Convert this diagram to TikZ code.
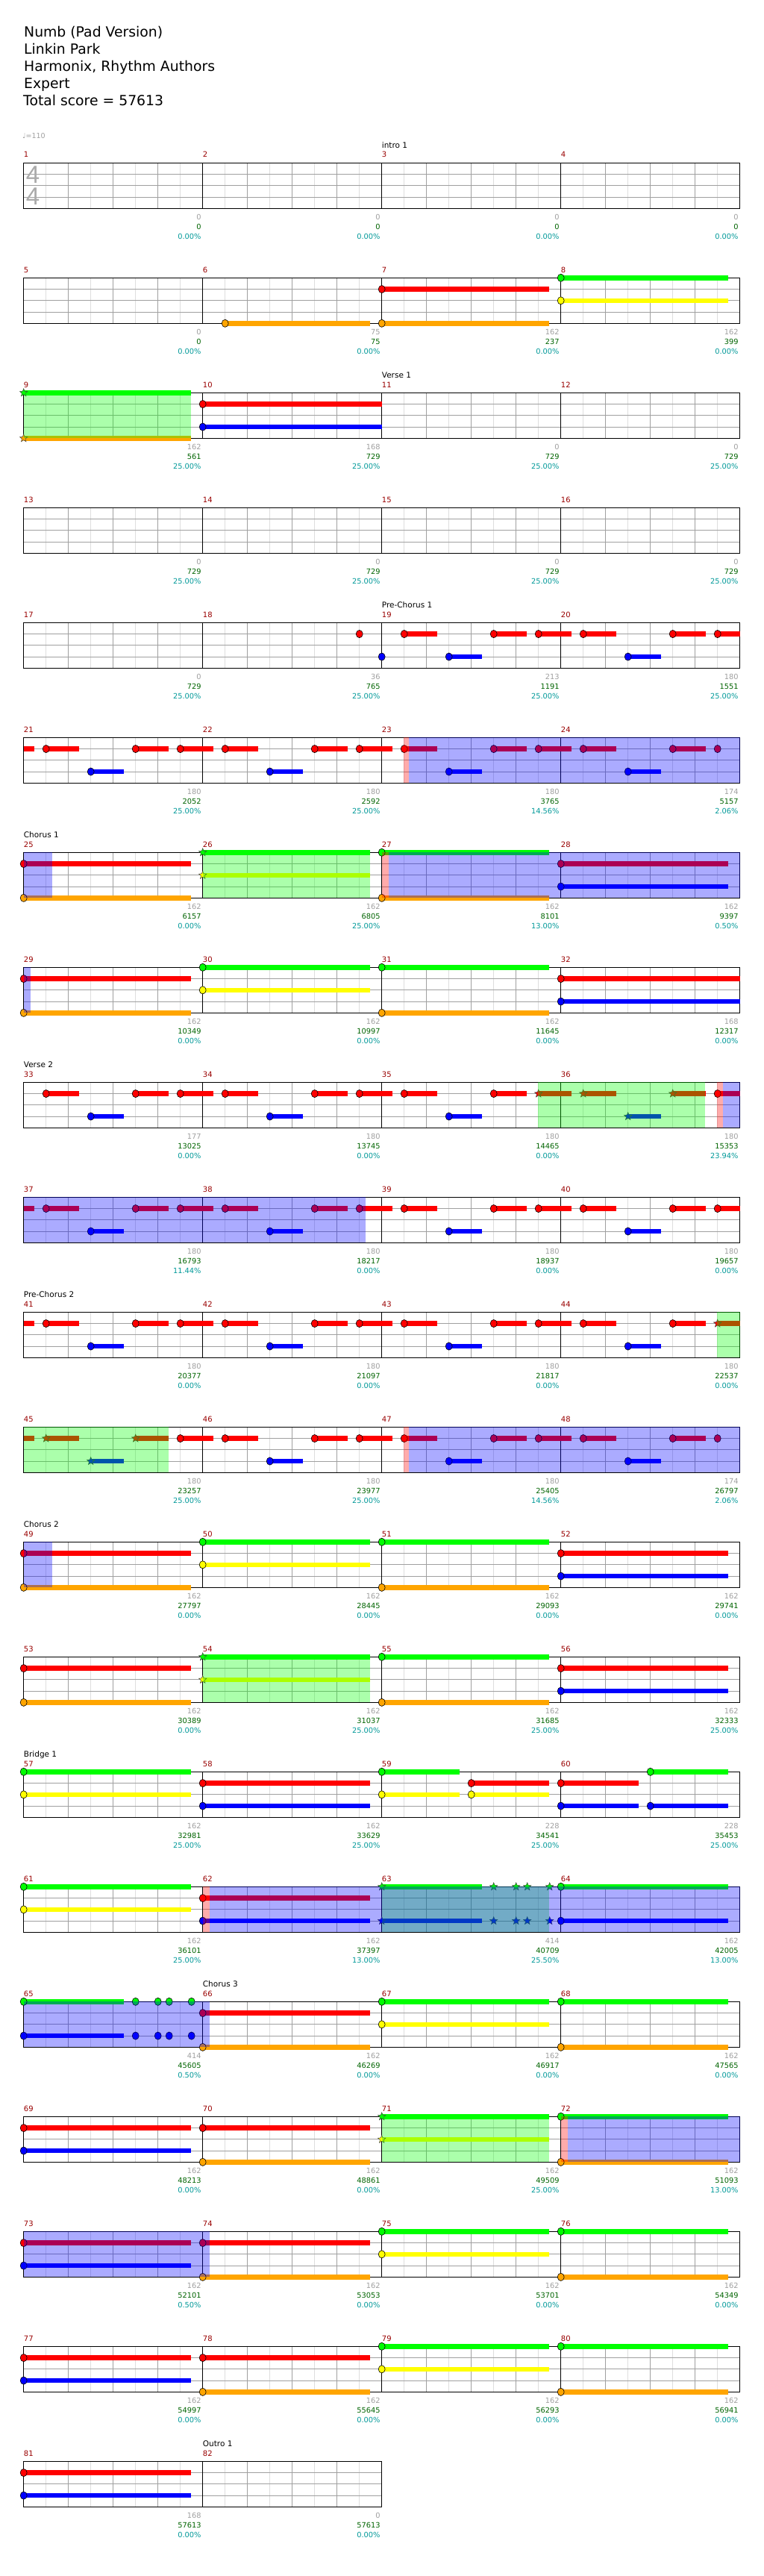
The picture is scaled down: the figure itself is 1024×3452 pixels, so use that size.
\documentclass[tikz,border=0pt]{standalone}
\usepackage{fontspec}
\setmainfont{DejaVu Sans}
\newfontfamily\lblfont{DejaVu Sans}
\newfontfamily\tsfont{Liberation Sans}
\usetikzlibrary{shapes.geometric}
\definecolor{gG}{HTML}{00FF00}
\definecolor{rR}{HTML}{FF0000}
\definecolor{yY}{HTML}{FFFF00}
\definecolor{bB}{HTML}{0000FF}
\definecolor{oO}{HTML}{FFA500}
\definecolor{mred}{HTML}{990000}
\definecolor{lgray}{HTML}{A0A0A0}
\definecolor{lgreen}{HTML}{006400}
\definecolor{lcyan}{HTML}{009999}
\definecolor{gridl}{HTML}{DEDEDE}
\definecolor{gridm}{HTML}{A0A0A0}
\tikzset{
 lgrid/.style={draw=gridl, line width=0.8pt},
 mgrid/.style={draw=gridm, line width=0.9pt},
 barline/.style={draw=black, line width=0.8pt},
 frame/.style={draw=black, line width=1.3pt},
 mnum/.style={anchor=base west, inner sep=0pt, text=mred, font=\lblfont\fontsize{10}{12}\selectfont},
 secl/.style={anchor=base west, inner sep=0pt, text=black, font=\lblfont\fontsize{10.5}{12}\selectfont},
 lbl/.style={anchor=base east, inner sep=0pt, font=\lblfont\fontsize{9.8}{12}\selectfont},
 title/.style={anchor=base west, inner sep=0pt, text=black, font=\fontsize{18.8}{22}\selectfont},
 starn/.style={star, star points=5, star point ratio=2.3, minimum size=11pt, inner sep=0pt, draw=black!75, line width=0.5pt},
 head/.style={draw=black, line width=0.6pt},
}
\newcommand\Sus[4]{\fill[#1] ({31.7+(#3)*60},{(#2)*15.25-3.3}) rectangle ({31.7+(#4)*60},{(#2)*15.25+3.3});}
\newcommand\Hd[3]{\draw[head, fill=#1] ({31.7+(#3)*60},{(#2)*15.25}) ellipse [x radius=4.5pt, y radius=5.1pt];}
\newcommand\Sh[3]{\node[starn, fill=#1] at ({31.7+(#3)*60},{(#2)*15.25}) {};}
\newcommand\Nt[4]{\Sus{#1}{#2}{#3}{#4}\Hd{#1}{#2}{#3}}
\newcommand\St[4]{\Sus{#1}{#2}{#3}{#4}\Sh{#1}{#2}{#3}}
\newcommand\Rs[1]{\foreach \bb in {#1}{\Nt{rR}{1}{\bb}{\bb+0.74}}}
\newcommand\Bs[1]{\foreach \bb in {#1}{\Nt{bB}{3}{\bb}{\bb+0.74}}}
\newcommand\Rst[1]{\foreach \bb in {#1}{\St{rR}{1}{\bb}{\bb+0.74}}}
\newcommand\Bst[1]{\foreach \bb in {#1}{\St{bB}{3}{\bb}{\bb+0.74}}}
\newcommand\Ov[3]{\fill[#1, opacity=0.33] ({31.7+(#2)*60},0) rectangle ({31.7+(#3)*60},61);}
\newcommand\Mn[2]{\node[mnum] at ({31.7+#1*240},-7.3) {#2};}
\newcommand\Sec[2]{\node[secl] at ({31.7+#1*240},-20) {#2};}
\newcommand\Lb[4]{%
 \node[lbl, text=lgray] at ({31.7+#1*240-2},76) {#2};
 \node[lbl, text=lgreen] at ({31.7+#1*240-2},89.4) {#3};
 \node[lbl, text=lcyan] at ({31.7+#1*240-2},102) {#4\%};}
\newcommand\Grid[1]{%
 \pgfmathtruncatemacro\gNb{4*#1-1}%
 \pgfmathtruncatemacro\gNm{#1-1}%
 \foreach \k in {0,...,\gNb} {\draw[lgrid] ({31.7+(\k+0.5)*60},0) -- ++(0,61);}
 \foreach \k in {1,...,\gNb} {\draw[mgrid] ({31.7+\k*60},0) -- ++(0,61);}
 \foreach \l in {1,2,3} {\draw[mgrid] (31.7,{\l*15.25}) -- ({31.7+#1*240},{\l*15.25});}
 \foreach \k in {1,...,\gNm} {\draw[barline] ({31.7+\k*240},0) -- ++(0,61);}
 \draw[frame] (31.7,0) rectangle ({31.7+#1*240},61);}
\newcommand\Nums[4]{\Mn{0}{#1}\Mn{1}{#2}\Mn{2}{#3}\Mn{3}{#4}}
\begin{document}
\begin{tikzpicture}[x=1pt,y=-1pt]
\useasboundingbox (0,0) rectangle (1024,3452);
\fill[white] (0,0) rectangle (1024,3452);
% header
\node[title] (t1) at (32,49.5) {Numb (Pad Version)};
\node[title] (t2) at (32,72.5) {Linkin Park};
\node[title] (t3) at (32,95.5) {Harmonix, Rhythm Authors};
\node[title] (t4) at (32,118.5) {Expert};
\node[title] (t5) at (31,141.5) {Total score = 57613};
\node[anchor=base west, inner sep=0pt, text=lgray, font=\fontsize{9.5}{11}\selectfont] (tempo) at (30,185.5) {♩=110};
% row 0
\begin{scope}[shift={(0,218.3)}]
\Grid{4}
\node[text=lgray!90, font=\tsfont\fontsize{33}{33}\selectfont, inner sep=0pt] (ts1) at (44,16) {4};
\node[text=lgray!90, font=\tsfont\fontsize{33}{33}\selectfont, inner sep=0pt] (ts2) at (44,45) {4};
\Nums{1}{2}{3}{4}\Sec{2}{intro 1}
\Lb{1}{0}{0}{0.00}\Lb{2}{0}{0}{0.00}\Lb{3}{0}{0}{0.00}\Lb{4}{0}{0}{0.00}
\end{scope}
% row 1
\begin{scope}[shift={(0,372.3)}]
\Grid{4}\Nums{5}{6}{7}{8}
\Nt{oO}{4}{4.5}{7.73}\Nt{oO}{4}{8}{11.73}\Nt{rR}{1}{8}{11.73}
\Nt{gG}{0}{12}{15.73}\Nt{yY}{2}{12}{15.73}
\Lb{1}{0}{0}{0.00}\Lb{2}{75}{75}{0.00}\Lb{3}{162}{237}{0.00}\Lb{4}{162}{399}{0.00}
\end{scope}
% row 2
\begin{scope}[shift={(0,526.3)}]
\Grid{4}\Nums{9}{10}{11}{12}\Sec{2}{Verse 1}
\St{gG}{0}{0}{3.73}\St{oO}{4}{0}{3.73}
\Nt{rR}{1}{4}{8}\Nt{bB}{3}{4}{8}
\Ov{gG}{0}{3.73}
\Lb{1}{162}{561}{25.00}\Lb{2}{168}{729}{25.00}\Lb{3}{0}{729}{25.00}\Lb{4}{0}{729}{25.00}
\end{scope}
% row 3
\begin{scope}[shift={(0,680.3)}]
\Grid{4}\Nums{13}{14}{15}{16}
\Lb{1}{0}{729}{25.00}\Lb{2}{0}{729}{25.00}\Lb{3}{0}{729}{25.00}\Lb{4}{0}{729}{25.00}
\end{scope}
% row 4
\begin{scope}[shift={(0,834.3)}]
\Grid{4}\Nums{17}{18}{19}{20}\Sec{2}{Pre-Chorus 1}
\Hd{rR}{1}{7.5}
\Rs{8.5,10.5,11.5,12.5,14.5}\Nt{rR}{1}{15.5}{16}
\Hd{bB}{3}{8}\Bs{9.5,13.5}
\Lb{1}{0}{729}{25.00}\Lb{2}{36}{765}{25.00}\Lb{3}{213}{1191}{25.00}\Lb{4}{180}{1551}{25.00}
\end{scope}
% row 5
\begin{scope}[shift={(0,988.3)}]
\Grid{4}\Nums{21}{22}{23}{24}
\Sus{rR}{1}{0}{0.24}
\Rs{0.5,2.5,3.5,4.5,6.5,7.5,8.5,10.5,11.5,12.5,14.5}\Hd{rR}{1}{15.5}
\Bs{1.5,5.5,9.5,13.5}
\Ov{rR}{8.48}{8.61}\Ov{bB}{8.61}{16}
\Lb{1}{180}{2052}{25.00}\Lb{2}{180}{2592}{25.00}\Lb{3}{180}{3765}{14.56}\Lb{4}{174}{5157}{2.06}
\end{scope}
% row 6
\begin{scope}[shift={(0,1142.3)}]
\Grid{4}\Nums{25}{26}{27}{28}\Sec{0}{Chorus 1}
\Nt{rR}{1}{0}{3.73}\Nt{oO}{4}{0}{3.73}
\St{gG}{0}{4}{7.73}\St{yY}{2}{4}{7.73}
\Nt{gG}{0}{8}{11.73}\Nt{oO}{4}{8}{11.73}
\Nt{rR}{1}{12}{15.73}\Nt{bB}{3}{12}{15.73}
\Ov{bB}{0}{0.64}\Ov{gG}{4}{7.73}\Ov{rR}{8}{8.15}\Ov{bB}{8.15}{16}
\Lb{1}{162}{6157}{0.00}\Lb{2}{162}{6805}{25.00}\Lb{3}{162}{8101}{13.00}\Lb{4}{162}{9397}{0.50}
\end{scope}
% row 7
\begin{scope}[shift={(0,1296.3)}]
\Grid{4}\Nums{29}{30}{31}{32}
\Nt{rR}{1}{0}{3.73}\Nt{oO}{4}{0}{3.73}
\Nt{gG}{0}{4}{7.73}\Nt{yY}{2}{4}{7.73}
\Nt{gG}{0}{8}{11.73}\Nt{oO}{4}{8}{11.73}
\Nt{rR}{1}{12}{16}\Nt{bB}{3}{12}{16}
\Ov{bB}{0}{0.15}
\Lb{1}{162}{10349}{0.00}\Lb{2}{162}{10997}{0.00}\Lb{3}{162}{11645}{0.00}\Lb{4}{168}{12317}{0.00}
\end{scope}
% row 8
\begin{scope}[shift={(0,1450.3)}]
\Grid{4}\Nums{33}{34}{35}{36}\Sec{0}{Verse 2}
\Rs{0.5,2.5,3.5,4.5,6.5,7.5,8.5,10.5}\Rst{11.5,12.5,14.5}\Nt{rR}{1}{15.5}{16}
\Bs{1.5,5.5,9.5}\Bst{13.5}
\Ov{gG}{11.48}{15.22}\Ov{rR}{15.48}{15.62}\Ov{bB}{15.62}{16}
\Lb{1}{177}{13025}{0.00}\Lb{2}{180}{13745}{0.00}\Lb{3}{180}{14465}{0.00}\Lb{4}{180}{15353}{23.94}
\end{scope}
% row 9
\begin{scope}[shift={(0,1604.3)}]
\Grid{4}\Nums{37}{38}{39}{40}
\Sus{rR}{1}{0}{0.24}
\Rs{0.5,2.5,3.5,4.5,6.5,7.5,8.5,10.5,11.5,12.5,14.5}\Nt{rR}{1}{15.5}{16}
\Bs{1.5,5.5,9.5,13.5}
\Ov{bB}{0}{7.63}
\Lb{1}{180}{16793}{11.44}\Lb{2}{180}{18217}{0.00}\Lb{3}{180}{18937}{0.00}\Lb{4}{180}{19657}{0.00}
\end{scope}
% row 10
\begin{scope}[shift={(0,1758.3)}]
\Grid{4}\Nums{41}{42}{43}{44}\Sec{0}{Pre-Chorus 2}
\Sus{rR}{1}{0}{0.24}
\Rs{0.5,2.5,3.5,4.5,6.5,7.5,8.5,10.5,11.5,12.5,14.5}\St{rR}{1}{15.5}{16}
\Bs{1.5,5.5,9.5,13.5}
\Ov{gG}{15.48}{16}
\Lb{1}{180}{20377}{0.00}\Lb{2}{180}{21097}{0.00}\Lb{3}{180}{21817}{0.00}\Lb{4}{180}{22537}{0.00}
\end{scope}
% row 11
\begin{scope}[shift={(0,1912.3)}]
\Grid{4}\Nums{45}{46}{47}{48}
\Sus{rR}{1}{0}{0.24}
\Rst{0.5,2.5}\Rs{3.5,4.5,6.5,7.5,8.5,10.5,11.5,12.5,14.5}\Hd{rR}{1}{15.5}
\Bst{1.5}\Bs{5.5,9.5,13.5}
\Ov{gG}{0}{3.24}\Ov{rR}{8.48}{8.61}\Ov{bB}{8.61}{16}
\Lb{1}{180}{23257}{25.00}\Lb{2}{180}{23977}{25.00}\Lb{3}{180}{25405}{14.56}\Lb{4}{174}{26797}{2.06}
\end{scope}
% row 12
\begin{scope}[shift={(0,2066.3)}]
\Grid{4}\Nums{49}{50}{51}{52}\Sec{0}{Chorus 2}
\Nt{rR}{1}{0}{3.73}\Nt{oO}{4}{0}{3.73}
\Nt{gG}{0}{4}{7.73}\Nt{yY}{2}{4}{7.73}
\Nt{gG}{0}{8}{11.73}\Nt{oO}{4}{8}{11.73}
\Nt{rR}{1}{12}{15.73}\Nt{bB}{3}{12}{15.73}
\Ov{bB}{0}{0.64}
\Lb{1}{162}{27797}{0.00}\Lb{2}{162}{28445}{0.00}\Lb{3}{162}{29093}{0.00}\Lb{4}{162}{29741}{0.00}
\end{scope}
% row 13
\begin{scope}[shift={(0,2220.3)}]
\Grid{4}\Nums{53}{54}{55}{56}
\Nt{rR}{1}{0}{3.73}\Nt{oO}{4}{0}{3.73}
\St{gG}{0}{4}{7.73}\St{yY}{2}{4}{7.73}
\Nt{gG}{0}{8}{11.73}\Nt{oO}{4}{8}{11.73}
\Nt{rR}{1}{12}{15.73}\Nt{bB}{3}{12}{15.73}
\Ov{gG}{4}{7.73}
\Lb{1}{162}{30389}{0.00}\Lb{2}{162}{31037}{25.00}\Lb{3}{162}{31685}{25.00}\Lb{4}{162}{32333}{25.00}
\end{scope}
% row 14
\begin{scope}[shift={(0,2374.3)}]
\Grid{4}\Nums{57}{58}{59}{60}\Sec{0}{Bridge 1}
\Nt{gG}{0}{0}{3.73}\Nt{yY}{2}{0}{3.73}
\Nt{rR}{1}{4}{7.73}\Nt{bB}{3}{4}{7.73}
\Nt{gG}{0}{8}{9.73}\Nt{yY}{2}{8}{9.73}
\Nt{rR}{1}{10}{11.73}\Nt{yY}{2}{10}{11.73}
\Nt{rR}{1}{12}{13.73}\Nt{bB}{3}{12}{13.73}
\Nt{gG}{0}{14}{15.73}\Nt{bB}{3}{14}{15.73}
\Lb{1}{162}{32981}{25.00}\Lb{2}{162}{33629}{25.00}\Lb{3}{228}{34541}{25.00}\Lb{4}{228}{35453}{25.00}
\end{scope}
% row 15
\begin{scope}[shift={(0,2528.3)}]
\Grid{4}\Nums{61}{62}{63}{64}
\Nt{gG}{0}{0}{3.73}\Nt{yY}{2}{0}{3.73}
\Nt{rR}{1}{4}{7.73}\Nt{bB}{3}{4}{7.73}
\St{gG}{0}{8}{10.24}\St{bB}{3}{8}{10.24}
\foreach \bb in {10.5,11,11.25,11.75}{\Sh{gG}{0}{\bb}\Sh{bB}{3}{\bb}}
\Nt{gG}{0}{12}{15.73}\Nt{bB}{3}{12}{15.73}
\Ov{rR}{4}{4.15}\Ov{gG}{8}{11.73}\Ov{bB}{4.15}{16}
\Lb{1}{162}{36101}{25.00}\Lb{2}{162}{37397}{13.00}\Lb{3}{414}{40709}{25.50}\Lb{4}{162}{42005}{13.00}
\end{scope}
% row 16
\begin{scope}[shift={(0,2682.3)}]
\Grid{4}\Nums{65}{66}{67}{68}\Sec{1}{Chorus 3}
\Nt{gG}{0}{0}{2.23}\Nt{bB}{3}{0}{2.23}
\foreach \bb in {2.5,3,3.25,3.75}{\Hd{gG}{0}{\bb}\Hd{bB}{3}{\bb}}
\Nt{rR}{1}{4}{7.73}\Nt{oO}{4}{4}{7.73}
\Nt{gG}{0}{8}{11.73}\Nt{yY}{2}{8}{11.73}
\Nt{gG}{0}{12}{15.73}\Nt{oO}{4}{12}{15.73}
\Ov{bB}{0}{4.15}
\Lb{1}{414}{45605}{0.50}\Lb{2}{162}{46269}{0.00}\Lb{3}{162}{46917}{0.00}\Lb{4}{162}{47565}{0.00}
\end{scope}
% row 17
\begin{scope}[shift={(0,2836.3)}]
\Grid{4}\Nums{69}{70}{71}{72}
\Nt{rR}{1}{0}{3.73}\Nt{bB}{3}{0}{3.73}
\Nt{rR}{1}{4}{7.73}\Nt{oO}{4}{4}{7.73}
\St{gG}{0}{8}{11.73}\St{yY}{2}{8}{11.73}
\Nt{gG}{0}{12}{15.73}\Nt{oO}{4}{12}{15.73}
\Ov{gG}{8}{11.73}\Ov{rR}{12}{12.15}\Ov{bB}{12.15}{16}
\Lb{1}{162}{48213}{0.00}\Lb{2}{162}{48861}{0.00}\Lb{3}{162}{49509}{25.00}\Lb{4}{162}{51093}{13.00}
\end{scope}
% row 18
\begin{scope}[shift={(0,2990.3)}]
\Grid{4}\Nums{73}{74}{75}{76}
\Nt{rR}{1}{0}{3.73}\Nt{bB}{3}{0}{3.73}
\Nt{rR}{1}{4}{7.73}\Nt{oO}{4}{4}{7.73}
\Nt{gG}{0}{8}{11.73}\Nt{yY}{2}{8}{11.73}
\Nt{gG}{0}{12}{15.73}\Nt{oO}{4}{12}{15.73}
\Ov{bB}{0}{4.15}
\Lb{1}{162}{52101}{0.50}\Lb{2}{162}{53053}{0.00}\Lb{3}{162}{53701}{0.00}\Lb{4}{162}{54349}{0.00}
\end{scope}
% row 19
\begin{scope}[shift={(0,3144.3)}]
\Grid{4}\Nums{77}{78}{79}{80}
\Nt{rR}{1}{0}{3.73}\Nt{bB}{3}{0}{3.73}
\Nt{rR}{1}{4}{7.73}\Nt{oO}{4}{4}{7.73}
\Nt{gG}{0}{8}{11.73}\Nt{yY}{2}{8}{11.73}
\Nt{gG}{0}{12}{15.73}\Nt{oO}{4}{12}{15.73}
\Lb{1}{162}{54997}{0.00}\Lb{2}{162}{55645}{0.00}\Lb{3}{162}{56293}{0.00}\Lb{4}{162}{56941}{0.00}
\end{scope}
% row 20
\begin{scope}[shift={(0,3298.3)}]
\Grid{2}\Mn{0}{81}\Mn{1}{82}\Sec{1}{Outro 1}
\Nt{rR}{1}{0}{3.73}\Nt{bB}{3}{0}{3.73}
\Lb{1}{168}{57613}{0.00}\Lb{2}{0}{57613}{0.00}
\end{scope}
\end{tikzpicture}
\end{document}
